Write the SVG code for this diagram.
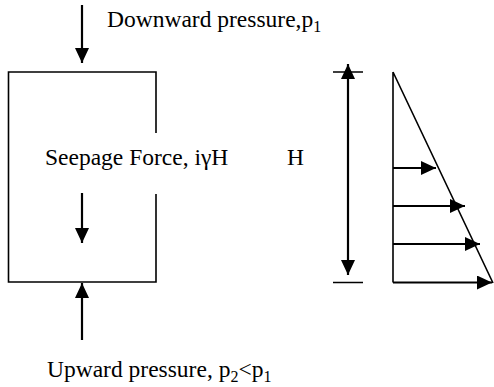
<svg xmlns="http://www.w3.org/2000/svg" width="494" height="387" viewBox="0 0 494 387">
<style>
text{font-family:"Liberation Serif","Times New Roman",serif;font-size:23.5px;fill:#000}
.sub{font-size:16px}
.ln{stroke:#000;stroke-width:1.6;fill:none}
.ar{stroke:#000;stroke-width:2.2;fill:none}
</style>
<defs>
<marker id="ah" markerUnits="userSpaceOnUse" markerWidth="16" markerHeight="15" refX="15" refY="7" orient="auto-start-reverse" viewBox="0 0 16 15">
<path d="M0,0 L15,7 L0,14 z" fill="#000"/>
</marker>
</defs>
<rect width="494" height="387" fill="#fff"/>
<g id="soil-box">
<path class="ln" d="M156,133 V72 H8.5 V282 H156 V194"/>
</g>
<g id="labels">
<text x="107" y="27">Downward pressure,p<tspan class="sub" dy="5">1</tspan></text>
<text x="45" y="165">Seepage Force, iγH</text>
<text x="287" y="165">H</text>
<text x="47" y="377">Upward pressure, p<tspan class="sub" dy="5">2</tspan><tspan dy="-5">&lt;p</tspan><tspan class="sub" dy="5">1</tspan></text>
</g>
<g id="pressure-diagram">
<path class="ln" d="M393,72 V282.5 M393,72 L493,283"/>
<path class="ln" d="M333,72 H363 M333,282.5 H363"/>
</g>
<g id="connectors">
<line class="ar" x1="82" y1="5" x2="82" y2="63" marker-end="url(#ah)"/>
<line class="ar" x1="82" y1="193" x2="82" y2="243" marker-end="url(#ah)"/>
<line class="ar" x1="82" y1="340" x2="82" y2="283" marker-end="url(#ah)"/>
<line class="ar" x1="348" y1="64" x2="348" y2="275" marker-start="url(#ah)" marker-end="url(#ah)"/>
<line class="ar" x1="393" y1="168" x2="436" y2="168" marker-end="url(#ah)"/>
<line class="ar" x1="393" y1="206" x2="465" y2="206" marker-end="url(#ah)"/>
<line class="ar" x1="393" y1="244" x2="480" y2="244" marker-end="url(#ah)"/>
<line class="ar" x1="393" y1="282.5" x2="492" y2="282.5" marker-end="url(#ah)"/>
</g>
</svg>
